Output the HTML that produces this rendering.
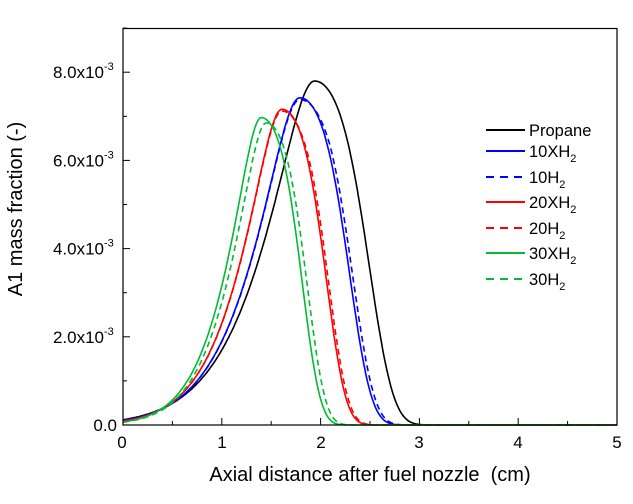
<!DOCTYPE html>
<html><head><style>body{margin:0;background:#fff}svg{font-family:"Liberation Sans",Arial,sans-serif}</style></head>
<body>
<svg id="s" width="633" height="499" xmlns="http://www.w3.org/2000/svg">
<g id="curves" fill="none" stroke-width="1.6"></g>
<rect x="123" y="28.5" width="494" height="396.5" fill="none" stroke="#000" stroke-width="1.2"/>
<g id="ticks" stroke="#000" stroke-width="1"></g>
<g font-size="17" fill="#000">
<text x="122" y="448" text-anchor="middle">0</text>
<text x="222" y="448" text-anchor="middle">1</text>
<text x="321" y="448" text-anchor="middle">2</text>
<text x="419" y="448" text-anchor="middle">3</text>
<text x="518" y="448" text-anchor="middle">4</text>
<text x="617" y="448" text-anchor="middle">5</text>
<text x="117" y="431" text-anchor="end">0.0</text>
</g>
<g font-size="17" fill="#000" id="ylab"></g>
<text x="370" y="481" font-size="20" text-anchor="middle" xml:space="preserve">Axial distance after fuel nozzle  (cm)</text>
<text transform="translate(22,209) rotate(-90)" font-size="20" text-anchor="middle">A1 mass fraction (-)</text>
<g id="legend" font-size="16.5"></g>
</svg>
<script>
var X=function(x){return 123+x*98.8},Y=function(v){return 425-v*44.1};
var h='';
for(var i=0;i<=10;i++){var x=X(i*0.5),L=i%2?4:7;h+='<line x1="'+x+'" y1="425" x2="'+x+'" y2="'+(425-L)+'"/>';}
for(var j=0;j<=9;j++){var y=Y(j),L=j%2?4:7;h+='<line x1="123" y1="'+y+'" x2="'+(123+L)+'" y2="'+y+'"/>';}
document.getElementById('ticks').innerHTML=h;
var yl='';[2,4,6,8].forEach(function(v){var y=Y(v);yl+='<text x="104" y="'+(y+6)+'" text-anchor="end">'+v+'.0x10</text><text x="104" y="'+(y-2)+'" font-size="11">-3</text>';});
document.getElementById('ylab').innerHTML=yl;
function G(u){return 0.42*(Math.sqrt(1+u*u/0.0625)-1)+0.35*u*u;}
function R(u){return 1.3*u*u+4*u*u*u*u;}
function f(x,p,A,sL,sR){var d=x-p;var g=d<0?G(-d/sL):R(d/sR);return A*Math.exp(-g);}
var C=[['#000',0,1.94,7.8,1,1,0],
['#00f',0,1.79,7.42,0.91,0.91,0],
['#00f',1,1.79,7.38,0.91,0.91,0.03],
['#f00',0,1.61,7.16,0.8,0.81,0],
['#f00',1,1.61,7.12,0.8,0.81,0.02],
['#0b3',0,1.40,6.97,0.67,0.75,0],
['#0b3',1,1.45,6.85,0.69,0.75,0.0]];
var ch='';C.forEach(function(c){var d='';for(var x=0;x<=5.0001;x+=0.01){var sh=c[6]*Math.max(0,Math.min(1,(x-c[2])/0.3));var v=f(x-sh,c[2],c[3],c[4],c[5]);d+=(x?'L':'M')+X(x).toFixed(1)+','+Y(v).toFixed(1);}
ch+='<path d="'+d+'" stroke="'+c[0]+'"'+(c[1]?' stroke-dasharray="6,4"':'')+'/>';});
document.getElementById('curves').innerHTML=ch;
var sub='<tspan font-size="11" dy="5">2</tspan>';
var lg=[['#000',0,'Propane'],['#00f',0,'10XH'+sub],['#00f',1,'10H'+sub],['#f00',0,'20XH'+sub],['#f00',1,'20H'+sub],['#0b3',0,'30XH'+sub],['#0b3',1,'30H'+sub]];
var ys=[130,151,177,202,228,253,279],lh='';
lg.forEach(function(l,i){var y=ys[i];lh+='<line x1="486" x2="525" y1="'+y+'" y2="'+y+'" stroke="'+l[0]+'" stroke-width="2"'+(l[1]?' stroke-dasharray="8,6"':'')+'/><text x="529" y="'+(y+6)+'">'+l[2]+'</text>';});
document.getElementById('legend').innerHTML=lh;
</script>
</body></html>
